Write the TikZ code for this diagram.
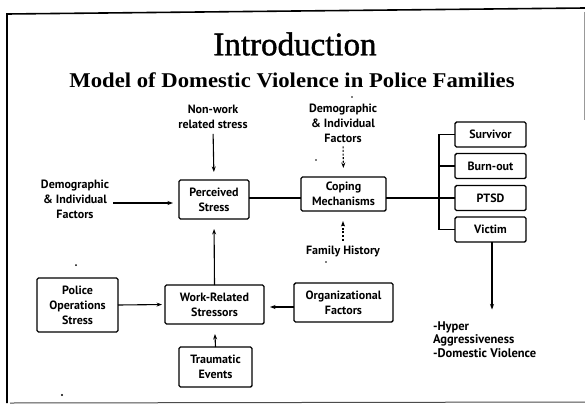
\documentclass[tikz,border=0pt]{standalone}
\usepackage{fontspec}
\setmainfont{Liberation Serif}
\newfontfamily\labelfont{PT Sans}
\newfontfamily\headfont[FakeBold=1.2]{Liberation Serif}
\usetikzlibrary{arrows.meta}
\begin{document}
\begin{tikzpicture}[x=1pt,y=-1pt,
  every node/.style={inner sep=0pt,outer sep=0pt},
  label text/.style={font=\labelfont\bfseries\fontsize{12}{15}\selectfont,align=center},
  stepbox/.style={draw,line width=1.4pt,rounded corners=1.5pt,minimum width=#1},
  arr/.style={line width=1.1pt,-{Stealth[length=5.5pt,width=4pt]}},
  dasharr/.style={arr,dash pattern=on 2pt off 1.6pt},
  link/.style={line width=1.1pt}]
  % page frame
  \useasboundingbox (0,0) rectangle (585,412);
  \fill[white] (0,0) rectangle (585,412);
  \draw[line width=1.6pt] (7,403) -- (7,14) -- (585,8);
  \draw[line width=1pt,black!70] (10,403) -- (585,402);
  \draw[line width=0.5pt,black!40] (584,12) -- (584,120);

  % headings
  \node (title) at (295,44) {\headfont\fontsize{33}{36}\selectfont Introduction};
  \node (subtitle) at (292,80) {\scalebox{1.08}[1]{\fontsize{21}{24}\selectfont\bfseries Model of Domestic Violence in Police Families}};

  % free labels
  \node[label text] (nonwork) at (213,117) {Non-work\\related stress};
  \node[label text] (demotop) at (343,123) {Demographic\\\& Individual\\Factors};
  \node[label text] (demoleft) at (75,199) {Demographic\\\& Individual\\Factors};
  \node[label text] (family) at (343,251) {Family History};
  \node[label text,align=left,anchor=west,font=\labelfont\bfseries\fontsize{12.5}{13.5}\selectfont] (outcome) at (433,339.5) {-Hyper\\Aggressiveness\\-Domestic Violence};

  % boxes
  \node[stepbox=70pt,minimum height=39pt,label text] (perceived) at (214,199.5) {Perceived\\Stress};
  \node[stepbox=85pt,minimum height=34pt,label text] (coping) at (343.5,194) {Coping\\Mechanisms};
  \node[stepbox=71pt,minimum height=25pt,label text] (survivor) at (490.5,134.5) {Survivor};
  \node[stepbox=71pt,minimum height=25pt,label text] (burnout) at (490.5,166) {Burn-out};
  \node[stepbox=71pt,minimum height=25pt,label text] (ptsd) at (490.5,198) {PTSD};
  \node[stepbox=71pt,minimum height=25pt,label text] (victim) at (490.5,229.5) {Victim};
  \node[stepbox=81pt,minimum height=54pt,label text] (police) at (77.5,305) {Police\\Operations\\Stress};
  \node[stepbox=99pt,minimum height=39pt,label text] (workrel) at (214.5,304.5) {Work-Related\\Stressors};
  \node[stepbox=99pt,minimum height=39pt,label text] (org) at (343.5,302.5) {Organizational\\Factors};
  \node[stepbox=73pt,minimum height=40pt,label text] (trauma) at (215.5,367) {Traumatic\\Events};

  % bracket joining the outcome boxes
  \coordinate (bartop) at (439,134.5);
  \coordinate (barbot) at (439,229.5);
  \coordinate (vs) at (492,242);

  % connectors
  \draw[arr,shorten <=5pt,shorten >=8pt] (nonwork.south) -- (perceived.north);
  \draw[dasharr,shorten <=4pt,shorten >=9pt] (demotop.south) -- (coping.north);
  \draw[arr,shorten <=4pt,shorten >=6pt] (demoleft.east |- 0,203) -- (perceived.west |- 0,203);
  \draw[link] (perceived.east |- 0,198) -- (coping.west |- 0,198);
  \draw[link] (coping.east |- 0,198) -- (ptsd.west);
  \draw[link] (survivor.west) -- (bartop) -- (barbot) -- (victim.west);
  \draw[link] (bartop |- burnout.west) -- (burnout.west);
  \draw[arr,shorten >=12pt] (vs) -- (vs |- outcome.north);
  \draw[dasharr,shorten <=5pt,shorten >=10pt] (family.north) -- (family.north |- coping.south);
  \draw[arr,shorten >=10pt] (workrel.north) -- (perceived.south);
  \draw[arr,shorten >=3pt] (police.east) -- (workrel.west);
  \draw[arr,shorten >=6pt] (org.west |- 0,307) -- (workrel.east |- 0,307);
  \draw[arr,shorten >=10pt] (trauma.north) -- (workrel.south);

  % scanning specks
  \fill (352,97) circle (0.8pt);
  \fill (316,160) circle (0.8pt);
  \fill (76,265) circle (1pt);
  \fill (62,395) circle (1.2pt);
  \fill (326,262) circle (0.8pt);
\end{tikzpicture}
\end{document}
